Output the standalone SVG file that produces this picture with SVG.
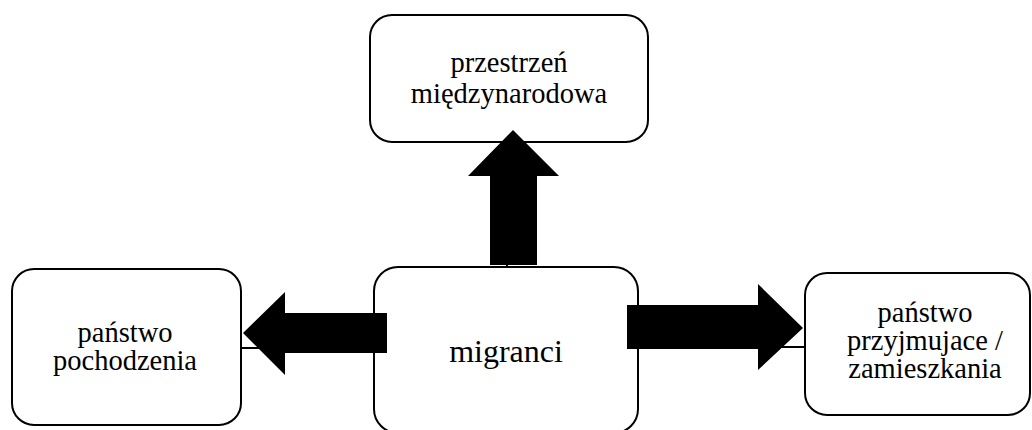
<svg xmlns="http://www.w3.org/2000/svg" width="1032" height="430" viewBox="0 0 1032 430">
<style>
.box{fill:#fff;stroke:#000;stroke-width:2}
text{font-family:"Liberation Serif","Times New Roman",serif;font-size:28.5px;fill:#000;text-anchor:middle}
.big{font-size:32px}
.conn{stroke:#000;stroke-width:2;fill:none}
.arrow{fill:#000;stroke:none}
</style>
<rect width="1032" height="430" fill="#fff"/>
<g id="connectors">
<line class="conn" x1="507" y1="267" x2="507" y2="142"/>
<line class="conn" x1="241" y1="348" x2="374" y2="348"/>
<line class="conn" x1="638" y1="347" x2="805" y2="347"/>
</g>
<g id="node-top">
<rect class="box" x="370" y="15" width="278" height="127" rx="22" ry="22"/>
<text x="509" y="72">przestrzeń</text>
<text x="509" y="103">międzynarodowa</text>
</g>
<g id="node-left">
<rect class="box" x="12" y="269" width="229" height="156" rx="22" ry="22"/>
<text x="125" y="342">państwo</text>
<text x="125" y="370">pochodzenia</text>
</g>
<g id="node-center">
<rect class="box" x="374" y="267" width="264" height="166" rx="24" ry="24"/>
<text class="big" x="506" y="362">migranci</text>
</g>
<g id="node-right">
<rect class="box" x="805" y="273" width="225" height="142" rx="22" ry="22"/>
<text x="925" y="322">państwo</text>
<text x="925" y="350">przyjmujace /</text>
<text x="925" y="378">zamieszkania</text>
</g>
<g id="arrows">
<polygon class="arrow" points="490,265 490,176 468,176 513,130 559,176 537,176 537,265"/>
<polygon class="arrow" points="387,313 285,313 285,292 243,333 285,375 285,353 387,353"/>
<polygon class="arrow" points="627,305 758,305 758,284 803,328 758,370 758,349 627,349"/>
</g>
</svg>
